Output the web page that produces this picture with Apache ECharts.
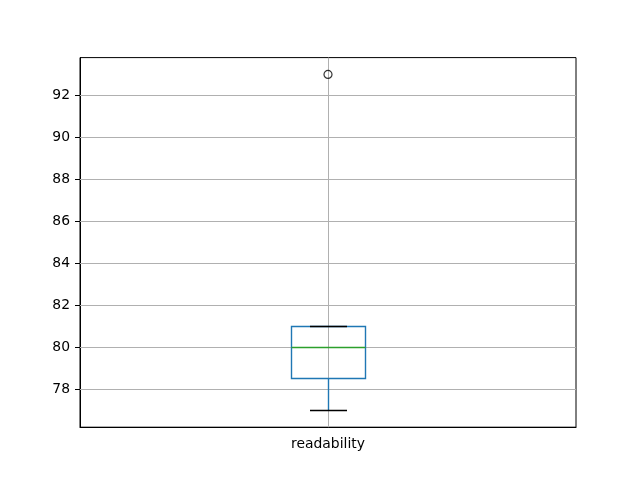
<!DOCTYPE html>
<html><head><meta charset="utf-8">
<script src="https://cdn.jsdelivr.net/npm/echarts@6/dist/echarts.min.js"></script>
<style>html,body{margin:0;padding:0;background:#fff}#c{width:640px;height:480px}</style>
</head><body><div id="c"></div>
<script>
const categories = ['readability'];
// [whiskerLow, Q1, median, Q3, whiskerHigh]
const boxStats = [[77, 78.5, 80, 81, 81]];
const outliers = [93];
const yTicks = [78, 80, 82, 84, 86, 88, 90, 92];
const yMin = 76.2, yMax = 93.8;

const chart = echarts.init(document.getElementById('c'), null, {renderer: 'canvas'});
const font = 'DejaVu Sans';
const crisp = v => Math.floor(v) + 0.5;

chart.setOption({
  animation: false,
  backgroundColor: '#fff',
  grid: {left: 80, top: 57.6, width: 496, height: 369.6, show: true, borderColor: '#000', borderWidth: 1, backgroundColor: 'transparent'},
  xAxis: {
    type: 'category', data: categories, boundaryGap: true,
    axisLine: {lineStyle: {color: '#000', width: 1}},
    axisTick: {alignWithLabel: true, length: 5, lineStyle: {color: '#000'}},
    axisLabel: {color: '#000', fontFamily: font, fontSize: 13.9, margin: 10},
    splitLine: {show: false}
  },
  yAxis: {
    type: 'value', min: yMin, max: yMax,
    axisLine: {show: true, lineStyle: {color: '#000', width: 1}},
    axisTick: {show: true, length: 5, lineStyle: {color: '#000'}, customValues: yTicks},
    axisLabel: {color: '#000', fontFamily: font, fontSize: 13.9, margin: 10, customValues: yTicks},
    splitLine: {show: false}
  },
  series: [
    {
      type: 'custom', z: 1, silent: true,
      data: yTicks.map(v => [0, v]),
      renderItem: function (params, api) {
        const p = api.coord([0, api.value(1)]);
        const cs = params.coordSys;
        const y = crisp(p[1]);
        return {type: 'line', shape: {x1: cs.x, y1: y, x2: cs.x + cs.width, y2: y}, style: {stroke: '#b0b0b0', lineWidth: 1}};
      }
    },
    {
      type: 'custom', z: 1, silent: true,
      data: categories.map((c, i) => [i]),
      renderItem: function (params, api) {
        const p = api.coord([api.value(0), yMin]);
        const cs = params.coordSys;
        const x = crisp(p[0]);
        return {type: 'line', shape: {x1: x, y1: cs.y, x2: x, y2: cs.y + cs.height}, style: {stroke: '#b0b0b0', lineWidth: 1}};
      }
    },
    {
      type: 'custom', z: 3,
      data: boxStats.map((s, i) => [i].concat(s)),
      renderItem: function (params, api) {
        const x = api.value(0);
        const wl = crisp(api.coord([x, api.value(1)])[1]);
        const q1 = crisp(api.coord([x, api.value(2)])[1]);
        const md = crisp(api.coord([x, api.value(3)])[1]);
        const q3 = crisp(api.coord([x, api.value(4)])[1]);
        const wh = crisp(api.coord([x, api.value(5)])[1]);
        const cx = crisp(api.coord([x, yMin])[0]);
        const bw = api.size([1, 0])[0] * 0.15;
        const cw = bw / 2;
        const l = crisp(cx - bw / 2), r = crisp(cx + bw / 2);
        const blue = '#1f77b4';
        return {type: 'group', children: [
          {type: 'line', shape: {x1: cx, y1: q1, x2: cx, y2: wl}, style: {stroke: blue, lineWidth: 1.4}},
          {type: 'line', shape: {x1: cx, y1: q3, x2: cx, y2: wh}, style: {stroke: blue, lineWidth: 1.4}},
          {type: 'rect', shape: {x: l, y: q3, width: r - l, height: q1 - q3}, style: {fill: 'none', stroke: blue, lineWidth: 1.4}},
          {type: 'line', shape: {x1: l, y1: md, x2: r, y2: md}, style: {stroke: '#2ca02c', lineWidth: 1.4}},
          {type: 'line', shape: {x1: Math.round(cx - cw / 2), y1: wl, x2: Math.round(cx + cw / 2), y2: wl}, style: {stroke: '#000', lineWidth: 1.4}},
          {type: 'line', shape: {x1: Math.round(cx - cw / 2), y1: wh, x2: Math.round(cx + cw / 2), y2: wh}, style: {stroke: '#000', lineWidth: 1.4}}
        ]};
      }
    },
    {
      type: 'scatter', z: 4,
      data: outliers.map(v => [0, v]),
      symbol: 'circle', symbolSize: 8,
      itemStyle: {color: 'transparent', borderColor: '#000', borderWidth: 1.2}
    }
  ]
});
</script></body></html>
